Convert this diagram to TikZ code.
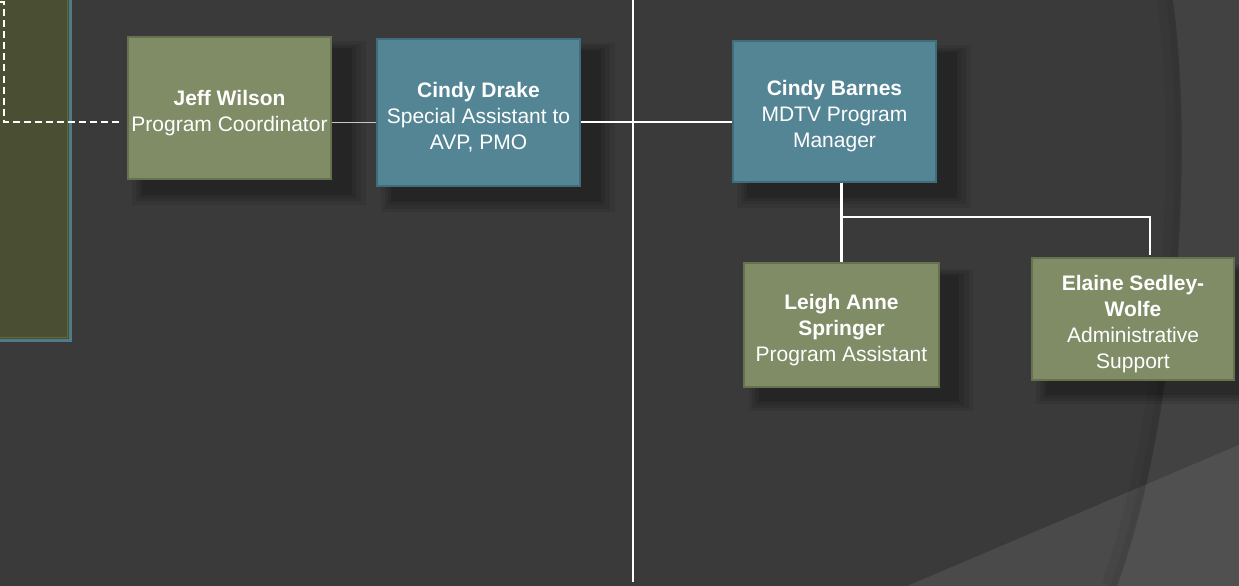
\documentclass[tikz,border=0pt]{standalone}
\usepackage{fontspec}
\setmainfont{Liberation Sans}
\usetikzlibrary{shadows,calc}
\definecolor{bgc}{HTML}{3A3A3A}
\definecolor{bgarc}{HTML}{424242}
\definecolor{bglow}{HTML}{4A4A4A}
\definecolor{bglowarc}{HTML}{505050}
\definecolor{boxgreen}{HTML}{7F8C66}
\definecolor{boxgreenedge}{HTML}{66714F}
\definecolor{boxblue}{HTML}{548595}
\definecolor{boxblueedge}{HTML}{3E6D7C}
\definecolor{olive}{HTML}{4A4F33}
\definecolor{olivegreen}{HTML}{5E6B36}
\definecolor{oliveblue}{HTML}{4E7A8A}
\definecolor{thinline}{HTML}{C8C8C8}
\tikzset{
  softshadow/.style={
    drop shadow={shadow xshift=17pt, shadow yshift=-13pt, shadow scale=1.15, opacity=.08, fill=black},
    drop shadow={shadow xshift=17pt, shadow yshift=-13pt, shadow scale=1.11, opacity=.09, fill=black},
    drop shadow={shadow xshift=17pt, shadow yshift=-13pt, shadow scale=1.07, opacity=.1, fill=black},
    drop shadow={shadow xshift=17pt, shadow yshift=-13pt, shadow scale=1.03, opacity=.12, fill=black}},
  orgbox/.style={softshadow, rectangle, inner sep=0pt, line width=1.5pt},
  boxtext/.style={text=white, align=center, font=\fontsize{21}{26}\selectfont, yshift=-5pt, inner sep=0pt},
  greenbox/.style={orgbox, fill=boxgreen, draw=boxgreenedge},
  bluebox/.style={orgbox, fill=boxblue, draw=boxblueedge},
  mainline/.style={draw=white, line width=2.4pt},
  faintline/.style={draw=thinline, line width=1pt},
  dotline/.style={draw=white, line width=2pt, dash pattern=on 7pt off 4pt}
}
\begin{document}
\begin{tikzpicture}[x=1pt,y=-1pt]
\useasboundingbox (0,0) rectangle (1239,586);
\begin{scope}
\clip (0,0) rectangle (1239,586);
% background
\fill[bgc] (0,0) rectangle (1239,586);
\fill[bgarc] (1173,0) .. controls (1194,150) and (1178,420) .. (1117,586) -- (1239,586) -- (1239,0) -- cycle;
\fill[bglow] (907,586) -- (1239,445) -- (1239,586) -- cycle;
\begin{scope}
\clip (1173,0) .. controls (1194,150) and (1178,420) .. (1117,586) -- (1239,586) -- (1239,0) -- cycle;
\fill[bglowarc] (907,586) -- (1239,445) -- (1239,586) -- cycle;
\end{scope}
\draw[black, opacity=.05, line width=16pt] (1165,0) .. controls (1186,150) and (1170,420) .. (1109,586);
\draw[black, opacity=.05, line width=6pt] (1169,0) .. controls (1190,150) and (1174,420) .. (1113,586);
% left partial box
\fill[olive] (-5,-5) rectangle (69,339);
\draw[oliveblue, line width=3pt] (-5,-5) rectangle (70.5,340);
\draw[olivegreen, line width=1pt] (-5,-5) rectangle (67.5,337.5);
\coordinate (dstart) at (0,2.5);
\coordinate (dcorner) at (4,2.5);
\coordinate (dbend) at (4,122);
\coordinate (dend) at (119,122);
\draw[dotline] (dstart) -- (dcorner) -- (dbend) -- (dend);
% nodes
\node[greenbox, minimum width=203pt, minimum height=142pt,
  label={[boxtext]center:\textbf{Jeff Wilson}\\Program Coordinator}] (jeff) at (229.5,108) {};
\node[bluebox, minimum width=203pt, minimum height=147pt,
  label={[boxtext]center:\textbf{Cindy Drake}\\Special Assistant to\\AVP, PMO}] (drake) at (478.5,112.5) {};
\node[bluebox, minimum width=203pt, minimum height=141pt,
  label={[boxtext]center:\textbf{Cindy Barnes}\\MDTV Program\\Manager}] (barnes) at (834.5,111.5) {};
\node[greenbox, minimum width=195pt, minimum height=124pt,
  label={[boxtext]center:\textbf{Leigh Anne}\\\textbf{Springer}\\Program Assistant}] (leigh) at (841.5,325) {};
\node[greenbox, minimum width=202pt, minimum height=122pt,
  label={[boxtext]center:\textbf{Elaine Sedley-}\\\textbf{Wolfe}\\Administrative\\Support}] (elaine) at (1133,319) {};
% connectors
\coordinate (row) at (0,122);
\coordinate (vtop) at (633,0);
\coordinate (vbot) at (633,582);
\coordinate (bus) at (842,217);
\coordinate (etap) at (1150,217);
\coordinate (etapend) at (1150,255);
\draw[faintline] (jeff.east |- row) -- (drake.west |- row);
\draw[mainline] (vtop) -- (vbot);
\draw[mainline] (drake.east |- row) -- (barnes.west |- row);
\draw[mainline] (leigh.north |- barnes.south) -- (leigh.north);
\draw[mainline] (bus) -- (etap) -- (etapend);
\end{scope}
\end{tikzpicture}
\end{document}
